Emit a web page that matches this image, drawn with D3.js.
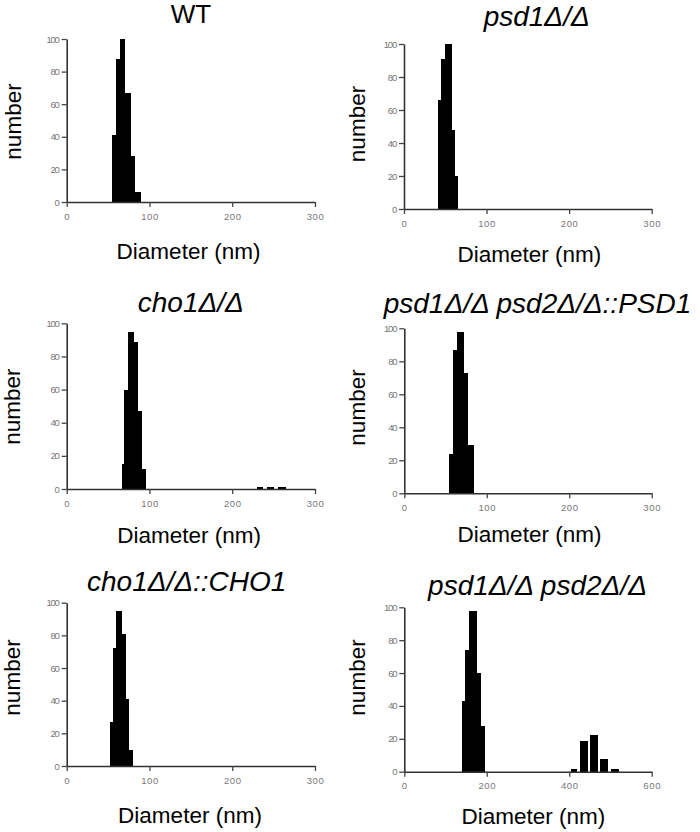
<!DOCTYPE html>
<html>
<head>
<meta charset="utf-8">
<script src="https://cdn.jsdelivr.net/npm/d3@7"></script>
<style>
  html, body { margin: 0; padding: 0; background: #fff; }
  svg { display: block; }
  .tick text { font-family: "Liberation Sans", Arial, sans-serif; fill: #777; }
</style>
</head>
<body>
<svg id="chart" width="700" height="832"></svg>
<script>
// ---------------- DATA ----------------
const titles = ["WT", "psd1Δ/Δ", "cho1Δ/Δ", "psd1Δ/Δ psd2Δ/Δ::PSD1", "cho1Δ/Δ::CHO1", "psd1Δ/Δ psd2Δ/Δ"];
const titleItalic = [false, true, true, true, true, true];
const xMax = [300, 300, 300, 300, 300, 600];
const yTickValues = [0, 20, 40, 60, 80, 100];
const xTicks300 = [0, 100, 200, 300];
const xTicks600 = [0, 200, 400, 600];
const xLabel = "Diameter (nm)";
const yLabel = "number";

// bins: start (nm), end (nm), count
const wtStart  = [54.7, 59.5, 64.4, 70.8, 78.0, 82.9];
const wtEnd    = [59.5, 64.4, 70.8, 78.0, 82.9, 89.4];
const wtCount  = [41, 88, 100, 67, 28, 6];

const psd1Start = [41.2, 45.2, 50.0, 58.1, 62.1];
const psd1End   = [45.2, 50.0, 58.1, 62.1, 65.4];
const psd1Count = [66, 91, 100, 48, 20];

const cho1Start = [66.5, 68.9, 73.8, 81.5, 85.6, 91.3, 229.5, 241.5, 255.5];
const cho1End   = [68.9, 73.8, 81.5, 85.6, 91.3, 95.8, 237.5, 250.4, 264.8];
const cho1Count = [15, 60, 95, 89, 47, 12, 1.5, 1.5, 1.5];

const psdRescueStart = [54.2, 59.4, 63.5, 72.4, 77.6];
const psdRescueEnd   = [59.4, 63.5, 72.4, 77.6, 84.5];
const psdRescueCount = [24, 87, 98, 73, 29];

const choRescueStart = [52.3, 55.5, 59.1, 67.1, 71.1, 75.5];
const choRescueEnd   = [55.5, 59.1, 67.1, 71.1, 75.5, 80.3];
const choRescueCount = [27, 72, 95, 81, 41, 10];

const dblStart = [139.3, 147.3, 157.8, 175.7, 185.4, 404.0, 427.0, 451.2, 475.5, 501.4];
const dblEnd   = [147.3, 157.8, 175.7, 185.4, 195.9, 420.0, 444.7, 469.0, 493.2, 519.8];
const dblCount = [43, 74, 98, 60, 28, 1.7, 18.5, 22.5, 7.5, 1.7];

const binStarts = [wtStart, psd1Start, cho1Start, psdRescueStart, choRescueStart, dblStart];
const binEnds   = [wtEnd, psd1End, cho1End, psdRescueEnd, choRescueEnd, dblEnd];
const binCounts = [wtCount, psd1Count, cho1Count, psdRescueCount, choRescueCount, dblCount];

// ---------------- LAYOUT ----------------
const panels = [
  {l: 66.7,  r: 315,   t: 39,    b: 202,   tx: 191,   ty: 22.5,  lx: 188.5, ly: 258.5, nx: 20.5,  ny: 121.5},
  {l: 404,   r: 651.7, t: 44,    b: 209,   tx: 536.7, ty: 26,    lx: 529.3, ly: 261.7, nx: 365,   ny: 124},
  {l: 66.7,  r: 315,   t: 323.3, b: 489,   tx: 190.8, ty: 311.7, lx: 189.2, ly: 543.3, nx: 20,    ny: 406.7},
  {l: 404.3, r: 651.7, t: 328.3, b: 493.3, tx: 537.5, ty: 313.3, lx: 529.5, ly: 541.7, nx: 365,   ny: 407.5},
  {l: 66.7,  r: 315,   t: 602.7, b: 766,   tx: 186.7, ty: 590.7, lx: 190,   ly: 823,   nx: 20,    ny: 677.5},
  {l: 404.3, r: 651.7, t: 607.3, b: 771.7, tx: 537.5, ty: 595,   lx: 533.3, ly: 824.3, nx: 365,   ny: 677.5}
];

const svg = d3.select("#chart");
const font = "'Liberation Sans', Arial, Helvetica, sans-serif";

panels.forEach((p, i) => {
  const g = svg.append("g");
  const x = d3.scaleLinear().domain([0, xMax[i]]).range([p.l, p.r]);
  const y = d3.scaleLinear().domain([0, 100]).range([p.b, p.t]);

  const bins = binStarts[i].map((s, k) => ({x0: s, x1: binEnds[i][k], v: binCounts[i][k]}));

  g.selectAll("rect.bar").data(bins).enter().append("rect")
    .attr("class", "bar")
    .attr("x", d => x(d.x0))
    .attr("width", d => x(d.x1) - x(d.x0))
    .attr("y", d => y(d.v))
    .attr("height", d => y(0) - y(d.v))
    .attr("fill", "#000")
    .attr("shape-rendering", "crispEdges");

  const xAxis = d3.axisBottom(x).tickValues(xMax[i] === 600 ? xTicks600 : xTicks300)
    .tickSize(5).tickSizeOuter(0).tickPadding(6);
  const yAxis = d3.axisLeft(y).tickValues(yTickValues)
    .tickSize(5).tickSizeOuter(0).tickPadding(3);

  const gx = g.append("g").attr("transform", `translate(0,${p.b})`).call(xAxis);
  const gy = g.append("g").attr("transform", `translate(${p.l},0)`).call(yAxis);

  [gx, gy].forEach(a => {
    a.select(".domain").attr("stroke", "#333").attr("stroke-width", 1.6);
    a.selectAll(".tick line").attr("stroke", "#444").attr("stroke-width", 1.3);
  });
  gx.selectAll(".tick text").attr("font-size", 9.5).attr("letter-spacing", 0.6).attr("fill", "#777");
  gy.selectAll(".tick text").attr("font-size", 9.5).attr("letter-spacing", -1.2).attr("fill", "#777");

  // title
  g.append("text")
    .attr("x", p.tx).attr("y", p.ty)
    .attr("text-anchor", "middle")
    .attr("font-family", font)
    .attr("font-size", titleItalic[i] ? 28 : 26)
    .attr("font-style", titleItalic[i] ? "italic" : "normal")
    .attr("fill", "#000")
    .text(titles[i]);

  // x label
  g.append("text")
    .attr("x", p.lx).attr("y", p.ly)
    .attr("text-anchor", "middle")
    .attr("font-family", font)
    .attr("font-size", 22.5)
    .attr("fill", "#000")
    .text(xLabel);

  // y label
  g.append("text")
    .attr("transform", `translate(${p.nx},${p.ny}) rotate(-90)`)
    .attr("text-anchor", "middle")
    .attr("font-family", font)
    .attr("font-size", 22.5)
    .attr("fill", "#000")
    .text(yLabel);
});
</script>
</body>
</html>
